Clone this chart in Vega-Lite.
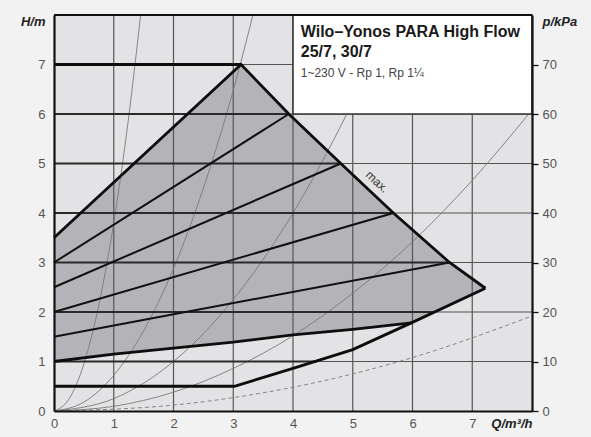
{
  "$schema": "https://vega.github.io/schema/vega-lite/v6.json",
  "width": 478,
  "height": 396,
  "autosize": {"type": "none"},
  "padding": {"left": 54, "top": 15, "right": 59, "bottom": 26},
  "background": "#f2f2f2",
  "config": {
    "view": {"fill": "#e3e3e5", "stroke": null},
    "font": "Liberation Sans"
  },
  "layer": [
    {
      "layer": [
        {
          "data": {"values": [
            {"Q": 0, "hi": 3.5, "lo": 1.0},
            {"Q": 1, "hi": 4.62, "lo": 1.15},
            {"Q": 2, "hi": 5.74, "lo": 1.27},
            {"Q": 3, "hi": 6.85, "lo": 1.39},
            {"Q": 3.13, "hi": 7.0, "lo": 1.41},
            {"Q": 3.93, "hi": 6.0, "lo": 1.53},
            {"Q": 4, "hi": 5.92, "lo": 1.54},
            {"Q": 4.8, "hi": 5.0, "lo": 1.63},
            {"Q": 5, "hi": 4.77, "lo": 1.65},
            {"Q": 5.68, "hi": 4.0, "lo": 1.74},
            {"Q": 5.98, "hi": 3.68, "lo": 1.78},
            {"Q": 6, "hi": 3.66, "lo": 1.79},
            {"Q": 6.62, "hi": 3.0, "lo": 2.14},
            {"Q": 7, "hi": 2.67, "lo": 2.36},
            {"Q": 7.22, "hi": 2.48, "lo": 2.48}
          ]},
          "mark": {"type": "area", "color": "#b4b4b8", "opacity": 1},
          "encoding": {
            "x": {"field": "Q", "type": "quantitative", "title": null,
              "scale": {"domain": [0, 8], "nice": false, "zero": false},
              "axis": {
                "orient": "bottom", "values": [0, 1, 2, 3, 4, 5, 6, 7, 8], "format": "d",
                "labelExpr": "datum.value == 8 ? 'Q/m³/h' : datum.label",
                "grid": false, "ticks": false, "domain": true, "domainColor": "#111", "domainWidth": 2.2,
                "labelPadding": 6, "labelFontSize": 13, "labelFont": "Liberation Sans",
                "labelColor": {"condition": {"test": "datum.value == 8", "value": "#222"}, "value": "#555"},
                "labelFontWeight": {"condition": {"test": "datum.value == 8", "value": "bold"}, "value": "normal"},
                "labelFontStyle": {"condition": {"test": "datum.value == 8", "value": "italic"}, "value": "normal"},
                "labelAlign": {"condition": {"test": "datum.value == 8", "value": "right"}, "value": "center"},
                "labelFlush": false, "labelOverlap": false, "labelBound": false, "zindex": 1
              }},
            "y": {"field": "hi", "type": "quantitative", "title": null,
              "scale": {"domain": [0, 8], "nice": false, "zero": false},
              "axis": {
                "orient": "left", "values": [0, 1, 2, 3, 4, 5, 6, 7, 8], "format": "d",
                "labelExpr": "datum.value == 8 ? 'H/m' : datum.label",
                "grid": false, "ticks": false, "domain": true, "domainColor": "#111", "domainWidth": 2.2,
                "labelPadding": 9, "labelFontSize": 13, "labelFont": "Liberation Sans",
                "labelColor": {"condition": {"test": "datum.value == 8", "value": "#222"}, "value": "#555"},
                "labelFontWeight": {"condition": {"test": "datum.value == 8", "value": "bold"}, "value": "normal"},
                "labelFontStyle": {"condition": {"test": "datum.value == 8", "value": "italic"}, "value": "normal"},
                "labelBaseline": {"condition": {"test": "datum.value == 8", "value": "top"}, "value": "middle"},
                "labelFlush": false, "labelOverlap": false, "labelBound": false, "zindex": 1
              }},
            "y2": {"field": "lo"}
          }
        },
        {
          "data": {"values": [{"Q": 1}, {"Q": 2}, {"Q": 3}, {"Q": 4}, {"Q": 5}, {"Q": 6}, {"Q": 7}]},
          "mark": {"type": "rule", "color": "#555", "strokeWidth": 1.2},
          "encoding": {
            "x": {"field": "Q", "type": "quantitative", "title": null, "scale": {"domain": [0, 8], "nice": false, "zero": false}}
          }
        },
        {
          "data": {"values": [{"H": 1}, {"H": 2}, {"H": 3}, {"H": 4}, {"H": 5}, {"H": 6}, {"H": 7}]},
          "mark": {"type": "rule", "color": "#555", "strokeWidth": 1.2},
          "encoding": {
            "y": {"field": "H", "type": "quantitative", "title": null, "scale": {"domain": [0, 8], "nice": false, "zero": false}}
          }
        },
        {
          "data": {"values": [
            {"c": "a", "Q": 0, "H": 0}, {"c": "a", "Q": 0.25, "H": 0.24}, {"c": "a", "Q": 0.5, "H": 0.95}, {"c": "a", "Q": 0.75, "H": 2.14}, {"c": "a", "Q": 1.0, "H": 3.8}, {"c": "a", "Q": 1.25, "H": 5.94}, {"c": "a", "Q": 1.45, "H": 8.0},
            {"c": "b", "Q": 0, "H": 0}, {"c": "b", "Q": 0.5, "H": 0.18}, {"c": "b", "Q": 1.0, "H": 0.72}, {"c": "b", "Q": 1.5, "H": 1.62}, {"c": "b", "Q": 2.0, "H": 2.88}, {"c": "b", "Q": 2.5, "H": 4.5}, {"c": "b", "Q": 3.0, "H": 6.48}, {"c": "b", "Q": 3.33, "H": 8.0},
            {"c": "c", "Q": 0, "H": 0}, {"c": "c", "Q": 1, "H": 0.25}, {"c": "c", "Q": 2, "H": 1.0}, {"c": "c", "Q": 3, "H": 2.25}, {"c": "c", "Q": 4, "H": 4.0}, {"c": "c", "Q": 4.9, "H": 6.0}, {"c": "c", "Q": 5.3, "H": 7.0},
            {"c": "d", "Q": 0, "H": 0}, {"c": "d", "Q": 1, "H": 0.095}, {"c": "d", "Q": 2, "H": 0.38}, {"c": "d", "Q": 3, "H": 0.86}, {"c": "d", "Q": 4, "H": 1.52}, {"c": "d", "Q": 5, "H": 2.38}, {"c": "d", "Q": 6, "H": 3.42}, {"c": "d", "Q": 7, "H": 4.66}, {"c": "d", "Q": 8, "H": 6.08}
          ]},
          "mark": {"type": "line", "color": "#7a7a7a", "strokeWidth": 0.9, "interpolate": "monotone", "clip": true},
          "encoding": {
            "x": {"field": "Q", "type": "quantitative", "title": null, "scale": {"domain": [0, 8], "nice": false, "zero": false}},
            "y": {"field": "H", "type": "quantitative", "title": null, "scale": {"domain": [0, 8], "nice": false, "zero": false}},
            "detail": {"field": "c"}
          }
        },
        {
          "data": {"values": [
            {"Q": 0, "H": 0}, {"Q": 2, "H": 0.12}, {"Q": 4, "H": 0.48}, {"Q": 6, "H": 1.08}, {"Q": 8, "H": 1.92}
          ]},
          "mark": {"type": "line", "color": "#7a7a7a", "strokeWidth": 0.9, "strokeDash": [4, 3], "interpolate": "monotone", "clip": true},
          "encoding": {
            "x": {"field": "Q", "type": "quantitative", "title": null, "scale": {"domain": [0, 8], "nice": false, "zero": false}},
            "y": {"field": "H", "type": "quantitative", "title": null, "scale": {"domain": [0, 8], "nice": false, "zero": false}}
          }
        },
        {
          "data": {"values": [
            {"H": 6, "Q": 0, "Q2": 3.93},
            {"H": 5, "Q": 0, "Q2": 4.8},
            {"H": 4, "Q": 0, "Q2": 5.68},
            {"H": 3, "Q": 0, "Q2": 6.62},
            {"H": 2, "Q": 0, "Q2": 6.37},
            {"H": 1, "Q": 0, "Q2": 4.4}
          ]},
          "mark": {"type": "rule", "color": "#2a2a2a", "strokeWidth": 1.9},
          "encoding": {
            "x": {"field": "Q", "type": "quantitative", "title": null, "scale": {"domain": [0, 8], "nice": false, "zero": false}},
            "x2": {"field": "Q2"},
            "y": {"field": "H", "type": "quantitative", "title": null, "scale": {"domain": [0, 8], "nice": false, "zero": false}}
          }
        },
        {
          "data": {"values": [
            {"s": "l1", "Q": 0, "H": 3.0}, {"s": "l1", "Q": 3.93, "H": 6.0},
            {"s": "l2", "Q": 0, "H": 2.5}, {"s": "l2", "Q": 4.8, "H": 5.0},
            {"s": "l3", "Q": 0, "H": 2.0}, {"s": "l3", "Q": 5.68, "H": 4.0},
            {"s": "l4", "Q": 0, "H": 1.5}, {"s": "l4", "Q": 6.62, "H": 3.0}
          ]},
          "mark": {"type": "line", "color": "#111", "strokeWidth": 2},
          "encoding": {
            "x": {"field": "Q", "type": "quantitative", "title": null, "scale": {"domain": [0, 8], "nice": false, "zero": false}},
            "y": {"field": "H", "type": "quantitative", "title": null, "scale": {"domain": [0, 8], "nice": false, "zero": false}},
            "detail": {"field": "s"}
          }
        },
        {
          "data": {"values": [
            {"s": "top", "Q": 0, "H": 7.0}, {"s": "top", "Q": 3.13, "H": 7.0},
            {"s": "up", "Q": 0, "H": 3.5}, {"s": "up", "Q": 3.13, "H": 7.0}, {"s": "up", "Q": 3.93, "H": 6.0}, {"s": "up", "Q": 4.8, "H": 5.0}, {"s": "up", "Q": 5.68, "H": 4.0}, {"s": "up", "Q": 6.62, "H": 3.0}, {"s": "up", "Q": 7.22, "H": 2.48},
            {"s": "low", "Q": 0, "H": 0.5}, {"s": "low", "Q": 3.02, "H": 0.5}, {"s": "low", "Q": 4.0, "H": 0.86}, {"s": "low", "Q": 5.0, "H": 1.24}, {"s": "low", "Q": 5.98, "H": 1.78}, {"s": "low", "Q": 7.22, "H": 2.48},
            {"s": "min", "Q": 0, "H": 1.0}, {"s": "min", "Q": 1, "H": 1.15}, {"s": "min", "Q": 2, "H": 1.27}, {"s": "min", "Q": 3, "H": 1.39}, {"s": "min", "Q": 4, "H": 1.54}, {"s": "min", "Q": 5, "H": 1.65}, {"s": "min", "Q": 5.98, "H": 1.78}
          ]},
          "mark": {"type": "line", "color": "#0d0d0d", "strokeWidth": 2.8, "strokeJoin": "miter"},
          "encoding": {
            "x": {"field": "Q", "type": "quantitative", "title": null, "scale": {"domain": [0, 8], "nice": false, "zero": false}},
            "y": {"field": "H", "type": "quantitative", "title": null, "scale": {"domain": [0, 8], "nice": false, "zero": false}},
            "detail": {"field": "s"}
          }
        },
        {
          "data": {"values": [{"Q": 4, "Q2": 8, "H": 6, "H2": 8}]},
          "mark": {"type": "rect", "fill": "#ffffff", "stroke": "#333", "strokeWidth": 1.5},
          "encoding": {
            "x": {"field": "Q", "type": "quantitative", "title": null, "scale": {"domain": [0, 8], "nice": false, "zero": false}},
            "x2": {"field": "Q2"},
            "y": {"field": "H", "type": "quantitative", "title": null, "scale": {"domain": [0, 8], "nice": false, "zero": false}},
            "y2": {"field": "H2"}
          }
        },
        {
          "data": {"values": [{"H": 8}]},
          "mark": {"type": "rule", "color": "#111", "strokeWidth": 2.2},
          "encoding": {
            "y": {"field": "H", "type": "quantitative", "title": null, "scale": {"domain": [0, 8], "nice": false, "zero": false}}
          }
        },
        {
          "data": {"values": [
            {"Q": 4.13, "H": 7.556, "t": "Wilo–Yonos PARA High Flow"},
            {"Q": 4.13, "H": 7.15, "t": "25/7, 30/7"}
          ]},
          "mark": {"type": "text", "align": "left", "baseline": "alphabetic", "fontSize": 16, "fontWeight": "bold", "color": "#1a1a1a", "font": "Liberation Sans"},
          "encoding": {
            "x": {"field": "Q", "type": "quantitative", "title": null, "scale": {"domain": [0, 8], "nice": false, "zero": false}},
            "y": {"field": "H", "type": "quantitative", "title": null, "scale": {"domain": [0, 8], "nice": false, "zero": false}},
            "text": {"field": "t"}
          }
        },
        {
          "data": {"values": [
            {"Q": 4.13, "H": 6.75, "t": "1~230 V - Rp 1, Rp 1¼"}
          ]},
          "mark": {"type": "text", "align": "left", "baseline": "alphabetic", "fontSize": 12, "color": "#444", "font": "Liberation Sans"},
          "encoding": {
            "x": {"field": "Q", "type": "quantitative", "title": null, "scale": {"domain": [0, 8], "nice": false, "zero": false}},
            "y": {"field": "H", "type": "quantitative", "title": null, "scale": {"domain": [0, 8], "nice": false, "zero": false}},
            "text": {"field": "t"}
          }
        },
        {
          "data": {"values": [{"Q": 5.41, "H": 4.63, "t": "max."}]},
          "mark": {"type": "text", "align": "center", "baseline": "middle", "fontSize": 12, "color": "#333", "angle": 43, "font": "Liberation Sans"},
          "encoding": {
            "x": {"field": "Q", "type": "quantitative", "title": null, "scale": {"domain": [0, 8], "nice": false, "zero": false}},
            "y": {"field": "H", "type": "quantitative", "title": null, "scale": {"domain": [0, 8], "nice": false, "zero": false}},
            "text": {"field": "t"}
          }
        }
      ]
    },
    {
      "data": {"values": [{"p": 0}, {"p": 80}]},
      "mark": {"type": "point", "opacity": 0},
      "encoding": {
        "y": {"field": "p", "type": "quantitative", "title": null,
          "scale": {"domain": [0, 80], "nice": false, "zero": false},
          "axis": {
            "orient": "right", "values": [0, 10, 20, 30, 40, 50, 60, 70, 80], "format": "d",
            "labelExpr": "datum.value == 80 ? 'p/kPa' : datum.label",
            "grid": false, "ticks": true, "tickSize": 6, "tickColor": {"condition": {"test": "datum.value == 80", "value": "transparent"}, "value": "#111"}, "tickWidth": 1.3,
            "domain": true, "domainColor": "#111", "domainWidth": 2.2,
            "labelPadding": 4, "labelFontSize": 13, "labelFont": "Liberation Sans",
            "labelColor": {"condition": {"test": "datum.value == 80", "value": "#222"}, "value": "#555"},
            "labelFontWeight": {"condition": {"test": "datum.value == 80", "value": "bold"}, "value": "normal"},
            "labelFontStyle": {"condition": {"test": "datum.value == 80", "value": "italic"}, "value": "normal"},
            "labelBaseline": {"condition": {"test": "datum.value == 80", "value": "top"}, "value": "middle"},
            "labelFlush": false, "labelOverlap": false, "labelBound": false, "zindex": 1
          }}
      }
    }
  ],
  "resolve": {"scale": {"y": "independent"}}
}
